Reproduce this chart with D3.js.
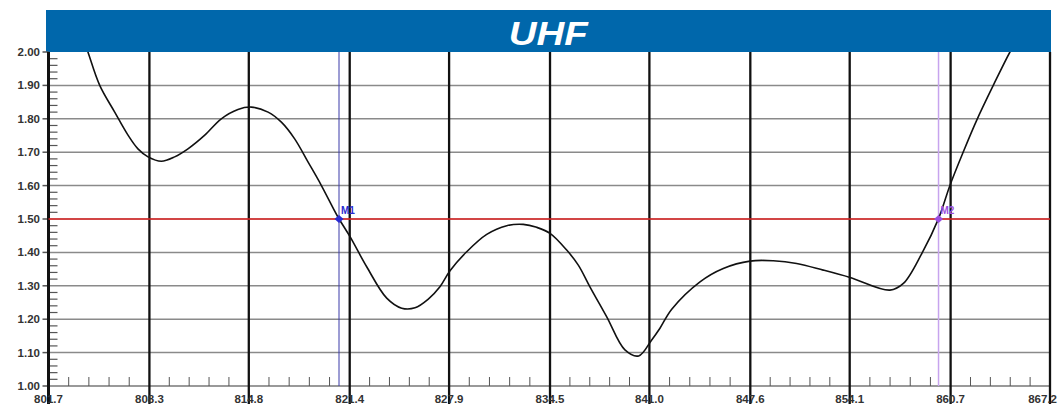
<!DOCTYPE html>
<html><head><meta charset="utf-8">
<script src="https://cdn.jsdelivr.net/npm/d3@7"></script>
<style>html,body{margin:0;padding:0;background:#fff;}svg{display:block;}</style>
</head><body>
<svg id="chart" width="1058" height="404"></svg>
<script>
const title = "UHF";
const xTickLabels = ["801.7","808.3","814.8","821.4","827.9","834.5","841.0","847.6","854.1","860.7","867.2"];
const yTickLabels = ["1.00","1.10","1.20","1.30","1.40","1.50","1.60","1.70","1.80","1.90","2.00"];
const freq = [803.76,804.28,805.05,806.03,806.90,807.55,808.21,809.08,809.95,810.82,811.92,813.00,814.09,814.96,816.06,816.93,817.80,818.67,819.54,820.63,821.42,822.51,823.82,824.80,825.67,826.54,827.30,827.96,829.05,830.36,831.67,832.75,833.63,834.50,835.59,836.35,837.11,838.21,839.40,840.30,841.15,841.69,842.46,844.31,845.83,847.58,849.10,850.63,852.37,854.12,856.73,857.61,858.83,859.91,860.66,861.53,862.41,863.49,864.58,865.24];
const vswr = [2.072,2.000,1.900,1.820,1.751,1.710,1.686,1.673,1.686,1.710,1.751,1.800,1.828,1.835,1.820,1.790,1.740,1.671,1.601,1.506,1.447,1.357,1.263,1.233,1.234,1.260,1.297,1.345,1.402,1.454,1.480,1.484,1.475,1.457,1.407,1.362,1.297,1.207,1.108,1.090,1.138,1.173,1.230,1.312,1.352,1.374,1.375,1.367,1.347,1.325,1.287,1.307,1.398,1.501,1.601,1.701,1.796,1.900,2.000,2.051];
const limit = [1.5];
const markerNames = ["M1","M2"];
const markerFreq = [820.70, 859.91];
const markerVswr = [1.50, 1.50];

const svg = d3.select("#chart");
const L = 48.5, R = 1050, T = 52, B = 386;
const x = d3.scaleLinear().domain([801.7, 867.2]).range([L, R]);
const y = d3.scaleLinear().domain([1.0, 2.0]).range([B, T]);
const xMaj = xTickLabels.map(Number);
const yMaj = yTickLabels.map(Number);

// banner
svg.append("rect").attr("x",46).attr("y",10).attr("width",1005).attr("height",42).attr("fill","#0067ab");
svg.append("text").attr("x",(L+R)/2-1).attr("y",45).attr("text-anchor","middle")
  .attr("font-family","Liberation Sans, Arial, sans-serif").attr("font-weight","bold").attr("font-style","italic")
  .attr("font-size",33).attr("fill","#fff").attr("textLength",79).attr("lengthAdjust","spacingAndGlyphs").text(title);

// horizontal grid
svg.append("g").selectAll("line").data(yMaj.filter(v=>v>1.0 && v<2.0)).join("line")
  .attr("x1",L).attr("x2",R).attr("y1",d=>y(d)).attr("y2",d=>y(d))
  .attr("stroke","#8a8a8a").attr("stroke-width",1.5);
// bottom axis line
svg.append("line").attr("x1",L).attr("x2",R).attr("y1",B).attr("y2",B).attr("stroke","#777").attr("stroke-width",1.5);

// minor x ticks
const xMinor = [];
for (let i=0;i<xMaj.length-1;i++){ for(let k=1;k<5;k++) xMinor.push(xMaj[i]+(xMaj[i+1]-xMaj[i])*k/5); }
svg.append("g").selectAll("line").data(xMinor).join("line")
  .attr("x1",d=>x(d)).attr("x2",d=>x(d)).attr("y1",B-9).attr("y2",B)
  .attr("stroke","#555").attr("stroke-width",1);
// minor y ticks
const yMinor = [];
for (let i=0;i<yMaj.length-1;i++){ for(let k=1;k<5;k++) yMinor.push(yMaj[i]+(yMaj[i+1]-yMaj[i])*k/5); }
svg.append("g").selectAll("line").data(yMinor).join("line")
  .attr("x1",L).attr("x2",L+9).attr("y1",d=>y(d)).attr("y2",d=>y(d))
  .attr("stroke","#555").attr("stroke-width",1.2);
// y major ticks
svg.append("g").selectAll("line").data(yMaj).join("line")
  .attr("x1",L-6).attr("x2",L).attr("y1",d=>y(d)).attr("y2",d=>y(d))
  .attr("stroke","#555").attr("stroke-width",1.5);

// vertical major lines
svg.append("g").selectAll("line").data(xMaj).join("line")
  .attr("x1",d=>x(d)).attr("x2",d=>x(d)).attr("y1",T).attr("y2",404)
  .attr("stroke","#111").attr("stroke-width",d=>d===xMaj[0]?3:2.3);

// y labels
svg.append("g").selectAll("text").data(yMaj).join("text")
  .attr("x",40).attr("y",d=>y(d)+4).attr("text-anchor","end")
  .attr("font-family","Liberation Sans, Arial, sans-serif").attr("font-weight","bold").attr("font-size",11.5)
  .attr("fill","#333").text((d,i)=>yTickLabels[i]);
// x labels
const nX = xMaj.length;
svg.append("g").selectAll("text").data(xMaj).join("text")
  .attr("x",(d,i)=>i===nX-1 ? 1057 : x(d)).attr("y",403)
  .attr("text-anchor",(d,i)=>i===nX-1 ? "end" : "middle")
  .attr("font-family","Liberation Sans, Arial, sans-serif").attr("font-weight","bold").attr("font-size",11.5)
  .attr("fill","#333").text((d,i)=>xTickLabels[i]);

// limit line
svg.append("g").selectAll("line").data(limit).join("line")
  .attr("x1",L).attr("x2",R).attr("y1",d=>y(d)).attr("y2",d=>y(d))
  .attr("stroke","#e02424").attr("stroke-width",1.6);

// marker lines
const mLineColor = ["#3a3aa8","#c7a4ee"];
const mColor = ["#2a2ad0","#9a4fe0"];
svg.append("g").selectAll("line").data(markerFreq).join("line")
  .attr("x1",d=>x(d)).attr("x2",d=>x(d)).attr("y1",T).attr("y2",B)
  .attr("stroke",(d,i)=>mLineColor[i]).attr("stroke-width",(d,i)=>i===0?1:1.5);

// curve
svg.append("clipPath").attr("id","clip").append("rect").attr("x",L).attr("y",T).attr("width",R-L).attr("height",B-T);
const pts = freq.map((f,i)=>[f,vswr[i]]);
svg.append("path").attr("clip-path","url(#clip)")
  .attr("d", d3.line().x(d=>x(d[0])).y(d=>y(d[1])).curve(d3.curveCatmullRom.alpha(0.5))(pts))
  .attr("fill","none").attr("stroke","#111").attr("stroke-width",1.6);

// markers
const mg = svg.append("g");
markerFreq.forEach((f,i)=>{
  const cx = x(f), cy = y(markerVswr[i]);
  mg.append("path").attr("d",`M${cx-4.5},${cy}L${cx},${cy-4}L${cx+4.5},${cy}L${cx},${cy+4}Z`).attr("fill",mColor[i]);
  mg.append("text").attr("x",cx+2).attr("y",cy-5).attr("font-family","Liberation Sans, Arial, sans-serif")
    .attr("font-weight","bold").attr("font-size",10).attr("fill",mColor[i]).text(markerNames[i]);
});
</script>
</body></html>
